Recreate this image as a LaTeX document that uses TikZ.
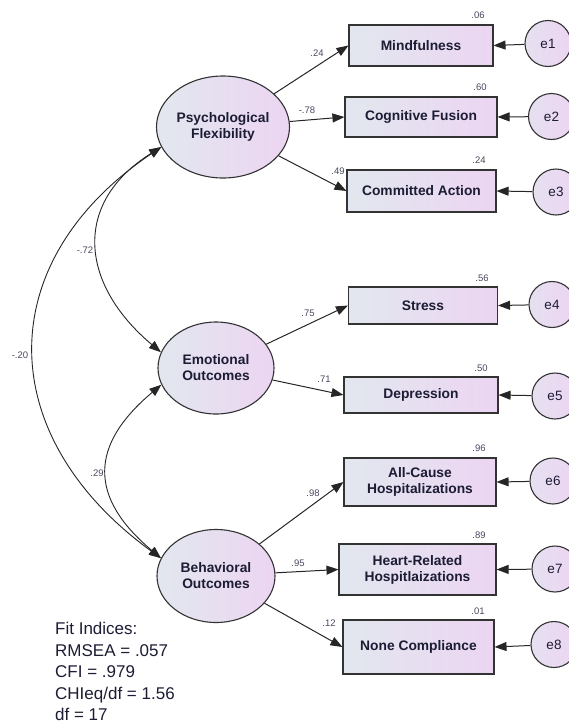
\documentclass[tikz,border=0pt]{standalone}
\usepackage{fontspec}
\setmainfont{Liberation Sans}
\usetikzlibrary{shapes.geometric,arrows.meta}

\definecolor{shadeL}{RGB}{226,231,239}
\definecolor{shadeR}{RGB}{236,213,242}
\definecolor{inkD}{RGB}{28,28,52}
\definecolor{inkC}{RGB}{72,72,96}

\begin{document}
\begin{tikzpicture}[x=1pt,y=1pt,
  latent/.style={ellipse,draw=black!80,line width=1.1pt,left color=shadeL,
    right color=shadeR,inner sep=0pt,align=center,text=inkD,
    font=\fontsize{13.8}{16}\selectfont\bfseries},
  observed/.style={rectangle,draw=black!80,line width=1.1pt,left color=shadeL,
    right color=shadeR,inner sep=0pt,align=center,text=inkD,
    font=\fontsize{13.8}{16}\selectfont\bfseries},
  errvar/.style={circle,draw=black!80,line width=1.1pt,left color=shadeL!60!shadeR,
    right color=shadeR,minimum size=46pt,inner sep=0pt,text=inkD,
    font=\fontsize{13.5}{15}\selectfont},
  coef/.style={text=inkC,font=\fontsize{9.5}{11}\selectfont},
  load/.style={-{Triangle[length=12pt,width=9pt]},line width=1pt,black!85},
  cov/.style={{Triangle[length=12pt,width=9pt]}-{Triangle[length=12pt,width=9pt]},
    line width=0.9pt,black!85}]
\useasboundingbox (0,0) rectangle (569,-726);

% Latent factors on the left.
\node[latent,minimum width=133pt,minimum height=102pt] (PF) at (223,-127)
  {Psychological\\Flexibility};
\node[latent,minimum width=116pt,minimum height=92pt] (EO) at (216,-368)
  {Emotional\\Outcomes};
\node[latent,minimum width=118pt,minimum height=93pt] (BO) at (216,-576)
  {Behavioral\\Outcomes};

% Indicators: name/x/y/width/height/label.
\foreach \nm/\x/\y/\w/\h/\lab in {
  MF/421/-45.5/144/41/Mindfulness,
  CF/421/-117/152/40/Cognitive Fusion,
  CA/421.5/-191/149/42/Committed Action,
  ST/423/-305.5/149/37/Stress,
  DP/421/-395/154/36/Depression,
  AC/420/-482/152/48/{All-Cause\\Hospitalizations},
  HR/417.5/-569.5/157/51/{Heart-Related\\Hospitlaizations},
  NC/418.5/-647/151/54/None Compliance}
  \node[observed,minimum width=\w pt,minimum height=\h pt] (\nm) at (\x,\y) {\lab};

% Error terms, partly cut by the right margin.
\foreach \i/\x/\y/\nm in {1/548/-43.5/MF,2/551.5/-116.5/CF,3/556/-192/CA,
  4/552/-304.5/ST,5/555/-396/DP,6/553/-481/AC,7/555/-569/HR,8/554/-644.5/NC}
{
  \node[errvar] (e\i) at (\x,\y) {e\i};
  \draw[load] (e\i) -- (\nm.east);
}

% Factor loadings.
\foreach \f/\nm in {PF/MF,PF/CF,PF/CA,EO/ST,EO/DP,BO/AC,BO/HR,BO/NC}
  \draw[load] (\f) -- (\nm.west);

% Covariances between the factors.
\draw[cov] (PF.198) to[out=214,in=144,looseness=1.29] (BO.162);
\draw[cov] (PF.198) to[out=212,in=140,looseness=1.32] (EO.164);
\draw[cov] (EO.197) to[out=220,in=140,looseness=1.39] (BO.162);

% Standardized estimates and squared multiple correlations.
\foreach \x/\y/\v in {317/-53/.24,307/-110/-.78,338/-171/.49,308/-313/.75,
  324/-379/.71,313/-493/.98,298/-563/.95,329/-623/.12,
  85/-250/-.72,20/-355/-.20,97/-473/.29,
  478/-15/.06,480/-87/.60,479/-160/.24,482/-278/.56,481/-368/.50,
  479/-448/.96,479/-535/.89,478/-611/.01}
  \node[coef] at (\x,\y) {\v};

\node[anchor=north west,align=left,inner sep=0pt,text=inkD,
  font=\fontsize{17}{21.5}\selectfont] (fit) at (55,-622)
  {Fit Indices:\\RMSEA = .057\\CFI = .979\\CHIeq/df = 1.56\\df = 17};
\end{tikzpicture}
\end{document}
